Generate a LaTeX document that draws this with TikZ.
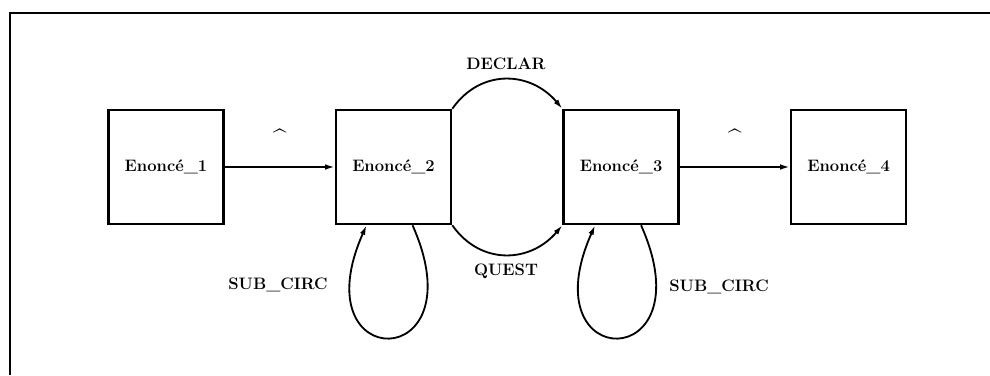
\documentclass[tikz,border=0pt]{standalone}
\usetikzlibrary{arrows.meta,positioning}

\begin{document}
\begin{tikzpicture}[line width=1.3pt,>={Latex[length=2.4mm,width=1.4mm]},
  enonce/.style={draw,line width=1.8pt,minimum width=2.875cm,minimum height=2.85cm,inner sep=0pt},
  caret/.style={font=\fontsize{17}{17}\selectfont\bfseries},
  every node/.append style={font=\fontsize{11.8}{14}\selectfont\bfseries}]
\useasboundingbox (0,0) rectangle (24.75,9.375);
% frame (top and left edges only)
\draw[line width=1.9pt] (0.25,0) -- (0.25,9.05) -- (24.75,9.05);
% the four statements
\node[enonce] (e1) at (4.15,5.2) {Enonc\'e\_1};
\node[enonce,right=2.75cm of e1] (e2) {Enonc\'e\_2};
\node[enonce,right=2.75cm of e2] (e3) {Enonc\'e\_3};
\node[enonce,right=2.75cm of e3] (e4) {Enonc\'e\_4};
% concatenation
\draw[->] (e1) -- node[above=0.38cm,caret] (c12) {\textasciicircum} (e2);
\draw[->] (e3) -- node[above=0.38cm,caret] (c34) {\textasciicircum} (e4);
% declarative and question links
\draw[->] (e2.north east) to[out=55,in=130,looseness=1.15] node[above=0.1cm] (decl) {DECLAR} (e3.north west);
\draw[->] (e2.south east) to[out=-55,in=-130,looseness=1.15] node[below=0.1cm] (quest) {QUEST} (e3.south west);
% circumstantial sub-clauses (loops)
\draw[->] ([xshift=0.475cm]e2.south) to[out=-66,in=-114,distance=4.1cm] ([xshift=-0.675cm]e2.south);
\draw[->] ([xshift=0.5cm]e3.south) to[out=-66,in=-114,distance=4.1cm] ([xshift=-0.65cm]e3.south);
\node (sc2) at (6.95,2.25) {SUB\_CIRC};
\node (sc3) at (17.975,2.2) {SUB\_CIRC};
\end{tikzpicture}
\end{document}
